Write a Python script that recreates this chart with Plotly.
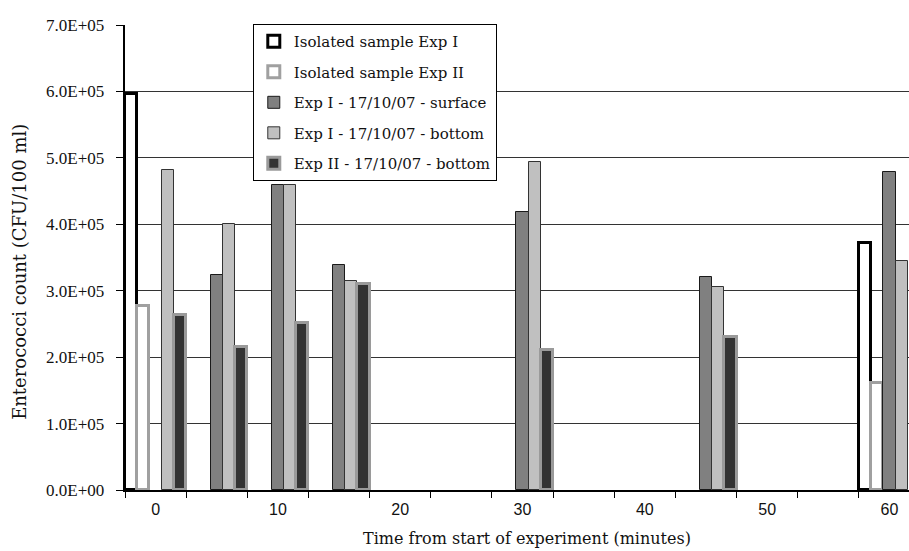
import math
import plotly.graph_objects as go

# Sampling times (minutes) - one category every 5 minutes
times = [0, 5, 10, 15, 20, 25, 30, 35, 40, 45, 50, 55, 60]
label_times = [0, 10, 20, 30, 40, 50, 60]

# Enterococci counts (CFU/100 ml); None = not sampled
iso_exp1 = [5.96e5, None, None, None, None, None, None, None, None, None, None, None, 3.72e5]
iso_exp2 = [2.77e5, None, None, None, None, None, None, None, None, None, None, None, 1.61e5]
exp1_surface = [None, 3.23e5, 4.59e5, 3.39e5, None, None, 4.18e5, None, None, 3.20e5, None, None, 4.79e5]
exp1_bottom = [4.82e5, 4.00e5, 4.59e5, 3.14e5, None, None, 4.94e5, None, None, 3.05e5, None, None, 3.44e5]
exp2_bottom = [2.63e5, 2.15e5, 2.51e5, 3.10e5, None, None, 2.11e5, None, None, 2.30e5, None, None, None]

y_ticks = [0, 1e5, 2e5, 3e5, 4e5, 5e5, 6e5, 7e5]


def sci(v):
    if v == 0:
        return "0.0E+00"
    e = int(math.floor(math.log10(v)))
    return f"{v / 10 ** e:.1f}E+{e:02d}"


SERIF = "Liberation Serif"
WIDE_SERIF = "DejaVu Serif"
SANS = "Liberation Sans"
INK = "#111111"
GAP = "\u00a0\u00a0"  # keeps the y labels clear of the tick marks

series = [
    ("Isolated sample Exp I", iso_exp1, "#ffffff", "#000000", 3),
    ("Isolated sample Exp II", iso_exp2, "#ffffff", "#a0a0a0", 3),
    ("Exp I - 17/10/07 - surface", exp1_surface, "#808080", "#1a1a1a", 1),
    ("Exp I - 17/10/07 - bottom", exp1_bottom, "#c0c0c0", "#333333", 1),
    ("Exp II - 17/10/07 - bottom", exp2_bottom, "#333333", "#9a9a9a", 3),
]

fig = go.Figure()
for i, (name, vals, fill, edge, lw) in enumerate(series):
    fig.add_trace(go.Bar(
        x=times, y=vals, name=name, legendgroup=f"g{i}",
        marker=dict(color=fill, line=dict(color=edge, width=lw)),
    ))

fig.update_layout(
    width=909, height=551,
    margin=dict(l=125, r=0, t=25, b=61),
    paper_bgcolor="white", plot_bgcolor="white",
    barmode="group", bargap=0, bargroupgap=0,
    font=dict(family=SERIF, size=16, color=INK),
    showlegend=True,
    legend=dict(
        x=0.163, y=1.002, xanchor="left", yanchor="top",
        bgcolor="white", bordercolor="black", borderwidth=1,
        font=dict(family=WIDE_SERIF, size=15, color=INK),
        tracegroupgap=8, traceorder="grouped",
    ),
    xaxis=dict(
        range=[-2.5, 61.6],
        tickmode="array", tickvals=label_times,
        ticktext=[str(t) for t in label_times],
        ticks="", showgrid=False, zeroline=False,
        showline=True, linecolor="black", linewidth=1.5,
        tickfont=dict(family=SANS, size=16, color=INK),
        ticklabelstandoff=4,
        minor=dict(tick0=-2.5, dtick=5, ticks="outside", ticklen=6,
                   tickcolor="black", tickwidth=1, showgrid=False),
    ),
    yaxis=dict(
        range=[0, 7e5],
        tickmode="array", tickvals=y_ticks,
        ticktext=[sci(v) + GAP for v in y_ticks],
        ticks="outside", ticklen=7, tickcolor="black", tickwidth=1,
        showgrid=True, gridcolor="#333333", gridwidth=1,
        zeroline=False, showline=True, linecolor="black", linewidth=1.5,
        tickfont=dict(family=SERIF, size=17, color=INK),
    ),
    annotations=[
        dict(text="Time from start of experiment (minutes)",
             xref="paper", yref="paper", x=0.513, y=-0.105,
             xanchor="center", yanchor="middle", showarrow=False,
             font=dict(family=WIDE_SERIF, size=16, color=INK)),
        dict(text="Enterococci count (CFU/100 ml)",
             xref="paper", yref="paper", x=-0.134, y=0.469, textangle=-90,
             xanchor="center", yanchor="middle", showarrow=False,
             font=dict(family=WIDE_SERIF, size=18, color=INK)),
    ],
)

fig.write_html("out.html")
